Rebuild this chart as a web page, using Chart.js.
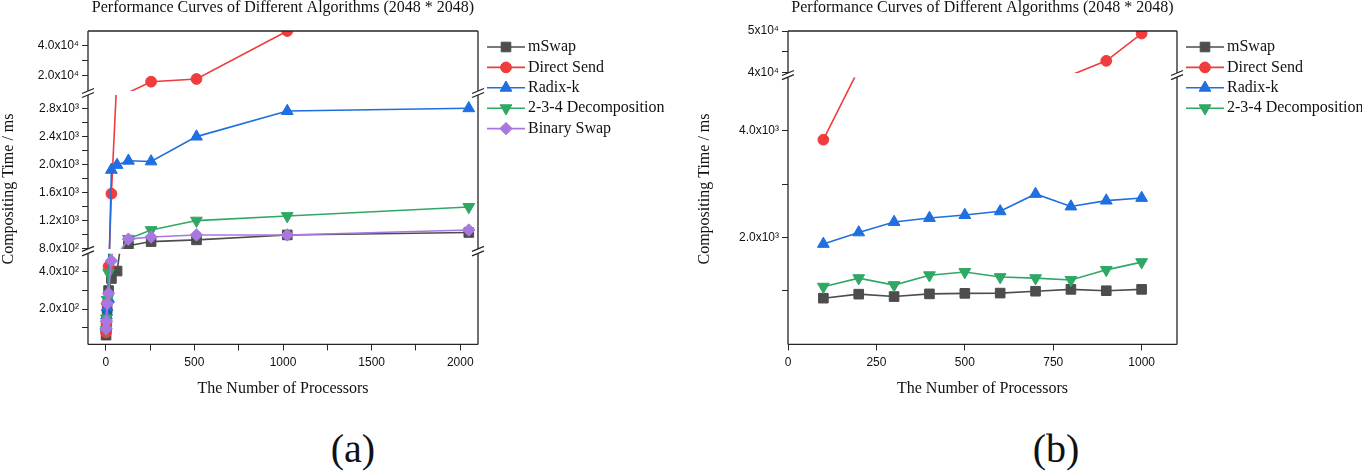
<!DOCTYPE html>
<html>
<head>
<meta charset="utf-8">
<script src="https://cdn.jsdelivr.net/npm/chart.js@4.4.0/dist/chart.umd.min.js"></script>
<style>
  html, body { margin: 0; padding: 0; background: #fff; }
  body { width: 1362px; height: 472px; position: relative; overflow: hidden; }
  .panel { position: absolute; top: 0; height: 400px; }
  #wrapA { left: 0; width: 680px; }
  #wrapB { left: 680px; width: 682px; }
  .tag { position: absolute; top: 425px; height: 40px; line-height: 40px; font: 40px "Liberation Serif", serif; color: #111; transform: translateX(-50%); }
</style>
</head>
<body>
<div class="panel" id="wrapA"><canvas id="chartA"></canvas></div>
<div class="panel" id="wrapB"><canvas id="chartB"></canvas></div>
<div class="tag" style="left:353px">(a)</div>
<div class="tag" style="left:1056px">(b)</div>
<script>
// ---------- data ----------
const chartTitle = 'Performance Curves of Different Algorithms (2048 * 2048)';
const xTitle = 'The Number of Processors';
const yTitle = 'Compositing Time / ms';
const seriesNames = ['mSwap', 'Direct Send', 'Radix-k', '2-3-4 Decomposition', 'Binary Swap'];

// (a) up to 2048 processors
const procA = [2, 4, 8, 16, 32, 64, 128, 256, 512, 1024, 2048];
const mswapA  = [60, 110, 190, 300, 365, 405, 845, 905, 930, 1000, 1035];
const directA = [75, 125, 230, 430, 1590, 3300, 9000, 16200, 18000, 50000, null]; // last one is off the top
const radixA  = [105, 165, 210, 255, 1930, 2000, 2060, 2050, 2405, 2770, 2810];
const decompA = [90, 150, 250, 395, 560, 700, 945, 1070, 1205, 1270, 1400];
const binaryA = [95, 135, 230, 285, 460, 700, 940, 970, 1000, 1000, 1070];

// (b) 100 .. 1000 processors
const procB = [100, 200, 300, 400, 500, 600, 700, 800, 900, 1000];
const mswapB  = [865, 940, 895, 945, 955, 960, 995, 1030, 1005, 1030];
const directB = [3830, 5150, null, null, null, null, null, 39500, 42900, 49400]; // 300-700 hidden in the axis break
const radixB  = [1880, 2095, 2290, 2365, 2420, 2490, 2815, 2580, 2690, 2740];
const decompB = [1080, 1240, 1110, 1295, 1355, 1260, 1240, 1205, 1395, 1540];

// pieces of the broken y axes: range, tick values, tick labels
const aTopRange = [10000, 50000];
const aTopTicks = [20000, 30000, 40000];
const aTopLabels = ['2.0x10⁴', '', '4.0x10⁴'];
const aMidRange = [800, 3000];
const aMidTicks = [800, 1000, 1200, 1400, 1600, 1800, 2000, 2200, 2400, 2600, 2800];
const aMidLabels = ['8.0x10²', '', '1.2x10³', '', '1.6x10³', '', '2.0x10³', '', '2.4x10³', '', '2.8x10³'];
const aLowRange = [10, 500];
const aLowTicks = [100, 200, 300, 400];
const aLowLabels = ['', '2.0x10²', '', '4.0x10²'];

const bTopRange = [40000, 50000];
const bTopTicks = [40000, 45000, 50000];
const bTopLabels = ['4x10⁴', '', '5x10⁴'];
const bLowRange = [0, 5000];
const bLowTicks = [1000, 2000, 3000, 4000];
const bLowLabels = ['', '2.0x10³', '', '4.0x10³'];

const xRangeA = [-100, 2100];
const xTicksA = [0, 250, 500, 750, 1000, 1250, 1500, 1750, 2000];
const xLabelsA = ['0', '', '500', '', '1000', '', '1500', '', '2000'];
const xRangeB = [0, 1100];
const xTicksB = [0, 250, 500, 750, 1000];
const xLabelsB = ['0', '250', '500', '750', '1000'];

// ---------- styles ----------
const looks = {
  'mSwap':               { color: '#4d4d4d', marker: 'rect',      radius: 6.8, rotation: 0 },
  'Direct Send':         { color: '#f03c3c', marker: 'circle',    radius: 5.4, rotation: 0 },
  'Radix-k':             { color: '#1f6fe0', marker: 'triangle',  radius: 6.8, rotation: 0 },
  '2-3-4 Decomposition': { color: '#2fa865', marker: 'triangle',  radius: 6.8, rotation: 180 },
  'Binary Swap':         { color: '#a878e0', marker: 'rectRot',   radius: 6.2, rotation: 0 }
};
const tickFont = { family: 'Liberation Sans', size: 12 };
const serifFont = { family: 'Liberation Serif', size: 16 };
const ink = '#111';

const brokenAxes = {
  id: 'brokenAxes',
  beforeDatasetDraw(chart, args) {
    const ys = args.meta.yScale;
    const a = chart.chartArea;
    const ctx = chart.ctx;
    ctx.save();
    ctx.beginPath();
    ctx.rect(a.left, ys.top, a.right - a.left, ys.bottom - ys.top);
    ctx.clip();
  },
  afterDatasetDraw(chart) {
    chart.ctx.restore();
  },
  afterDatasetsDraw(chart, args, opts) {
    const ctx = chart.ctx;
    const a = chart.chartArea;
    const segs = opts.segments.map(id => chart.scales[id]);
    ctx.save();
    ctx.strokeStyle = '#262626';
    ctx.lineWidth = 1.3;
    ctx.beginPath();
    segs.forEach(s => {
      ctx.moveTo(a.left, s.top); ctx.lineTo(a.left, s.bottom);
      ctx.moveTo(a.right, s.top); ctx.lineTo(a.right, s.bottom);
    });
    ctx.moveTo(a.left, a.top); ctx.lineTo(a.right, a.top);
    ctx.moveTo(a.left, a.bottom); ctx.lineTo(a.right, a.bottom);
    ctx.stroke();

    // "//" marks at the cuts
    ctx.beginPath();
    for (let i = 0; i < segs.length - 1; i++) {
      [segs[i].bottom, segs[i + 1].top].forEach(y => {
        [a.left, a.right].forEach(x => {
          ctx.moveTo(x - 6, y + 2.5);
          ctx.lineTo(x + 6, y - 2.5);
        });
      });
    }
    ctx.stroke();

    // legend: line with marker, then name
    const lg = opts.legend;
    opts.names.forEach((name, i) => {
      const lk = looks[name];
      const y = a.top + lg.top + i * lg.step;
      const x0 = a.right + lg.left;
      ctx.strokeStyle = lk.color;
      ctx.lineWidth = 1.6;
      ctx.beginPath();
      ctx.moveTo(x0, y); ctx.lineTo(x0 + lg.line, y);
      ctx.stroke();
      ctx.fillStyle = lk.color;
      ctx.lineWidth = 1;
      Chart.helpers.drawPoint(ctx, { pointStyle: lk.marker, radius: lk.radius, rotation: lk.rotation, borderWidth: 1 }, x0 + lg.line / 2, y);
      ctx.fillStyle = ink;
      ctx.font = serifFont.size + 'px "' + serifFont.family + '"';
      ctx.textAlign = 'left';
      ctx.textBaseline = 'middle';
      ctx.fillText(name, x0 + lg.line + 3, y);
    });

    // y axis title across all pieces
    ctx.translate(opts.yTitleX, opts.yTitleY);
    ctx.rotate(-Math.PI / 2);
    ctx.font = serifFont.size + 'px "' + serifFont.family + '"';
    ctx.textAlign = 'center';
    ctx.textBaseline = 'middle';
    ctx.fillStyle = ink;
    ctx.fillText(yTitle, 0, 0);
    ctx.restore();
  }
};

function segAxis(seg, order) {
  return {
    type: 'linear', position: 'left', stack: 'y', stackWeight: seg.h, weight: order,
    min: seg.range[0], max: seg.range[1],
    afterBuildTicks: s => { s.ticks = seg.ticks.map(v => ({ value: v })); },
    afterFit: s => { s.width = 60; },
    ticks: { callback: (v, i) => seg.labels[i], font: tickFont, color: ink, padding: 3, autoSkip: false },
    grid: { drawOnChartArea: false, tickLength: 6, color: '#262626' },
    border: { display: false }
  };
}

function gapAxis(h, order) {
  return {
    type: 'linear', position: 'left', stack: 'y', stackWeight: h, weight: order,
    min: 0, max: 1,
    afterFit: s => { s.width = 60; },
    ticks: { display: false },
    grid: { display: false },
    border: { display: false }
  };
}

function buildChart(canvasId, p) {
  const scales = {
    x: {
      type: 'linear', min: p.xRange[0], max: p.xRange[1],
      afterBuildTicks: s => { s.ticks = p.xTicks.map(v => ({ value: v })); },
      ticks: { callback: (v, i) => p.xLabels[i], font: tickFont, color: ink, padding: 5, maxRotation: 0, autoSkip: false },
      grid: { drawOnChartArea: false, tickLength: 6, color: '#262626' },
      border: { display: false },
      title: { display: true, text: xTitle, font: serifFont, color: ink, padding: { top: 4, bottom: 0 } }
    }
  };
  const n = p.segments.length;
  p.segments.forEach((seg, k) => {
    scales[seg.id] = segAxis(seg, 2 * (n - k) + 1);
    if (k < n - 1) scales[seg.id + 'Gap'] = gapAxis(seg.gap, 2 * (n - k));
  });

  const datasets = [];
  p.series.forEach((s, si) => {
    const lk = looks[s.name];
    p.segments.forEach(seg => {
      const [lo, hi] = seg.range;
      datasets.push({
        label: s.name,
        yAxisID: seg.id,
        xAxisID: 'x',
        order: p.series.length - si,
        data: p.xs.map((x, i) => ({ x: x, y: s.values[i] })),
        borderColor: lk.color,
        backgroundColor: lk.color,
        borderWidth: 1.6,
        pointStyle: lk.marker,
        rotation: lk.rotation,
        pointRadius: ctx => {
          const v = ctx.raw ? ctx.raw.y : null;
          return v != null && v >= lo && v <= hi ? lk.radius : 0;
        },
        pointBorderWidth: 1,
        pointBorderColor: lk.color,
        pointBackgroundColor: lk.color,
        tension: 0,
        spanGaps: false
      });
    });
  });

  return new Chart(document.getElementById(canvasId), {
    type: 'line',
    data: { datasets: datasets },
    options: {
      responsive: true,
      maintainAspectRatio: false,
      animation: false,
      events: [],
      layout: { padding: p.padding },
      scales: scales,
      plugins: {
        legend: { display: false },
        tooltip: { enabled: false },
        title: {
          display: true, text: chartTitle, fullSize: false, color: ink,
          font: { family: serifFont.family, size: 16, weight: 'normal', lineHeight: 1 },
          padding: { top: 0, bottom: 15 }
        },
        brokenAxes: {
          segments: p.segments.map(s => s.id),
          names: p.series.map(s => s.name),
          legend: { left: 9, top: 16, step: 20.4, line: 38 },
          yTitleX: p.yTitleX,
          yTitleY: 189
        }
      }
    },
    plugins: [brokenAxes]
  });
}

buildChart('chartA', {
  xs: procA,
  series: [
    { name: seriesNames[0], values: mswapA },
    { name: seriesNames[1], values: directA },
    { name: seriesNames[2], values: radixA },
    { name: seriesNames[3], values: decompA },
    { name: seriesNames[4], values: binaryA }
  ],
  segments: [
    { id: 'yTop', range: aTopRange, ticks: aTopTicks, labels: aTopLabels, h: 60, gap: 4 },
    { id: 'yMid', range: aMidRange, ticks: aMidTicks, labels: aMidLabels, h: 154, gap: 4.5 },
    { id: 'yLow', range: aLowRange, ticks: aLowTicks, labels: aLowLabels, h: 91 }
  ],
  xRange: xRangeA, xTicks: xTicksA, xLabels: xLabelsA,
  padding: { left: 28, right: 202, top: 0, bottom: 2 },
  yTitleX: 9
});

buildChart('chartB', {
  xs: procB,
  series: [
    { name: seriesNames[0], values: mswapB },
    { name: seriesNames[1], values: directB },
    { name: seriesNames[2], values: radixB },
    { name: seriesNames[3], values: decompB }
  ],
  segments: [
    { id: 'yTop', range: bTopRange, ticks: bTopTicks, labels: bTopLabels, h: 42, gap: 4.2 },
    { id: 'yLow', range: bLowRange, ticks: bLowTicks, labels: bLowLabels, h: 267.3 }
  ],
  xRange: xRangeB, xTicks: xTicksB, xLabels: xLabelsB,
  padding: { left: 48, right: 185, top: 0, bottom: 2 },
  yTitleX: 25
});
</script>
</body>
</html>
